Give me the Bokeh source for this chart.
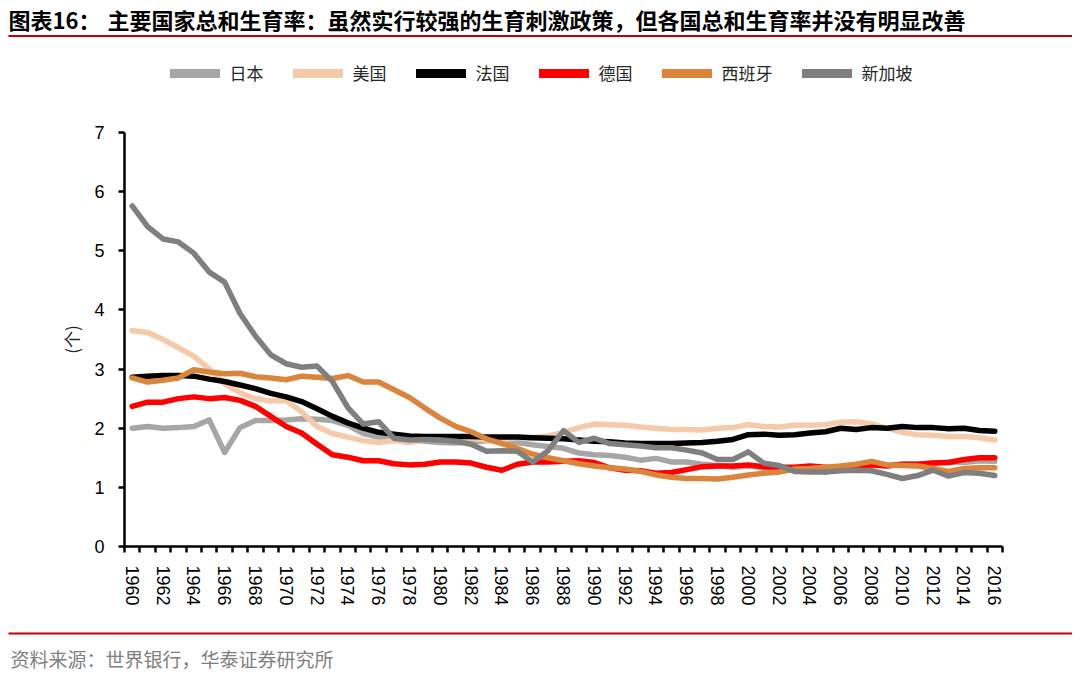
from bokeh.plotting import figure
from bokeh.layouts import column, row
from bokeh.models import Range1d, FixedTicker, Legend, LegendItem
from bokeh.core.properties import value
from bokeh.embed import file_html
from bokeh.resources import INLINE

# ---------------- data ----------------
years = list(range(1960, 2017))
tick_years = years[::2]

series_names = ["日本", "美国", "法国", "德国", "西班牙", "新加坡"]

japan = [2.00, 2.03, 2.00, 2.01, 2.03, 2.14, 1.59, 2.01, 2.13, 2.13,
         2.14, 2.16, 2.15, 2.13, 2.05, 1.91, 1.85, 1.82, 1.80, 1.78,
         1.76, 1.75, 1.77, 1.79, 1.80, 1.76, 1.72, 1.69, 1.66, 1.58,
         1.55, 1.54, 1.51, 1.46, 1.49, 1.43, 1.43, 1.39, 1.37, 1.34,
         1.36, 1.33, 1.32, 1.29, 1.29, 1.26, 1.32, 1.34, 1.37, 1.37,
         1.39, 1.39, 1.41, 1.43, 1.42, 1.45, 1.44]
usa = [3.65, 3.62, 3.50, 3.36, 3.22, 3.00, 2.75, 2.60, 2.50, 2.46,
       2.47, 2.28, 2.03, 1.91, 1.85, 1.79, 1.76, 1.79, 1.76, 1.80,
       1.84, 1.81, 1.83, 1.80, 1.81, 1.84, 1.84, 1.87, 1.93, 2.01,
       2.07, 2.06, 2.05, 2.02, 2.00, 1.98, 1.98, 1.97, 2.00, 2.01,
       2.06, 2.03, 2.02, 2.05, 2.05, 2.06, 2.10, 2.11, 2.07, 2.00,
       1.93, 1.89, 1.88, 1.86, 1.86, 1.84, 1.80]
france = [2.86, 2.88, 2.89, 2.89, 2.88, 2.83, 2.79, 2.73, 2.67, 2.59,
          2.53, 2.45, 2.33, 2.20, 2.09, 2.00, 1.93, 1.90, 1.87, 1.86,
          1.86, 1.86, 1.86, 1.85, 1.85, 1.85, 1.84, 1.83, 1.82, 1.80,
          1.78, 1.77, 1.75, 1.74, 1.74, 1.74, 1.75, 1.76, 1.78, 1.81,
          1.89, 1.90, 1.88, 1.89, 1.92, 1.94, 2.00, 1.98, 2.01, 2.00,
          2.03, 2.01, 2.01, 1.99, 2.00, 1.96, 1.95]
germany = [2.37, 2.44, 2.44, 2.50, 2.53, 2.50, 2.52, 2.47, 2.37, 2.20,
           2.03, 1.92, 1.73, 1.55, 1.51, 1.45, 1.45, 1.40, 1.38, 1.39,
           1.43, 1.43, 1.41, 1.34, 1.29, 1.39, 1.43, 1.43, 1.44, 1.45,
           1.42, 1.33, 1.29, 1.28, 1.24, 1.25, 1.30, 1.35, 1.36, 1.36,
           1.38, 1.35, 1.34, 1.34, 1.36, 1.34, 1.33, 1.37, 1.38, 1.36,
           1.39, 1.39, 1.41, 1.42, 1.47, 1.50, 1.50]
spain = [2.85, 2.78, 2.81, 2.85, 2.99, 2.95, 2.92, 2.93, 2.87, 2.85,
         2.82, 2.88, 2.86, 2.84, 2.89, 2.78, 2.78, 2.65, 2.52, 2.34,
         2.17, 2.03, 1.94, 1.82, 1.74, 1.66, 1.56, 1.50, 1.45, 1.40,
         1.36, 1.33, 1.31, 1.27, 1.21, 1.17, 1.15, 1.15, 1.14, 1.17,
         1.21, 1.24, 1.26, 1.31, 1.32, 1.34, 1.36, 1.39, 1.44, 1.38,
         1.37, 1.36, 1.32, 1.27, 1.32, 1.33, 1.33]
singapore = [5.76, 5.41, 5.20, 5.15, 4.96, 4.64, 4.47, 3.94, 3.56, 3.24,
             3.09, 3.03, 3.05, 2.79, 2.35, 2.07, 2.11, 1.83, 1.80, 1.81,
             1.80, 1.78, 1.73, 1.61, 1.62, 1.61, 1.43, 1.62, 1.96, 1.76,
             1.83, 1.74, 1.72, 1.70, 1.67, 1.67, 1.63, 1.58, 1.47, 1.47,
             1.60, 1.41, 1.37, 1.27, 1.26, 1.26, 1.28, 1.29, 1.28, 1.22,
             1.15, 1.20, 1.29, 1.19, 1.25, 1.24, 1.20]

y_ticks = [0, 1, 2, 3, 4, 5, 6, 7]

title_prefix = "图表16："
title_text = "主要国家总和生育率：虽然实行较强的生育刺激政策，但各国总和生育率并没有明显改善"
source_text = "资料来源：世界银行，华泰证券研究所"
y_label = "(个)"

series = [japan, usa, france, germany, spain, singapore]
colors = ["#A6A6A6", "#F6C9A9", "#000000", "#FF0000", "#DA843C", "#7F7F7F"]

CJK = "Noto Sans CJK SC"
RULE = "#C00000"
W = 1072
NAN = float("nan")


def blank_fig(h):
    """A figure whose frame is the whole canvas; data y runs downwards in pixels."""
    f = figure(width=W, height=h, output_backend="svg", toolbar_location=None,
               x_range=Range1d(0, W), y_range=Range1d(h, 0),
               x_axis_type=None, y_axis_type=None,
               min_border=0, min_border_left=0, min_border_right=0,
               min_border_top=0, min_border_bottom=0)
    f.xgrid.visible = False
    f.ygrid.visible = False
    f.outline_line_color = None
    f.background_fill_color = "white"
    f.border_fill_color = "white"
    return f


# ---------------- header (title, rule, legend) ----------------
TOP_H = 118
top = blank_fig(TOP_H)
top.text(x=[8], y=[18], text=[title_prefix], text_font=value(CJK), text_font_size="22px",
         text_font_style="bold", text_baseline="middle", text_color="black")
top.text(x=[107], y=[18], text=[title_text], text_font=value(CJK), text_font_size="22px",
         text_font_style="bold", text_baseline="middle", text_color="black")
top.segment(x0=[8], y0=[35.5], x1=[1072], y1=[35.5], line_color=RULE, line_width=2)

items = []
for name, c in zip(series_names, colors):
    r = top.line(x=[NAN], y=[NAN], line_color=c, line_width=9, line_cap="round")
    items.append(LegendItem(label=name, renderers=[r]))
legend = Legend(items=items, orientation="horizontal", location=(169.5, TOP_H - 85),
                glyph_width=50, glyph_height=20, label_standoff=10, spacing=29,
                padding=0, margin=0, border_line_color=None, background_fill_alpha=0,
                label_text_font=CJK, label_text_font_size="17px", label_text_color="#262626",
                label_height=20)
top.add_layout(legend)

# ---------------- main chart ----------------
MAIN_TOP = TOP_H
MAIN_H = 620 - MAIN_TOP
p = figure(width=W, height=MAIN_H, output_backend="svg", toolbar_location=None,
           x_range=Range1d(1959.5, 2016.5), y_range=Range1d(0, 7),
           min_border_left=124, min_border_right=W - 1002,
           min_border_top=132 - MAIN_TOP, min_border_bottom=620 - 546)
p.xgrid.visible = False
p.ygrid.visible = False
p.outline_line_color = None
p.background_fill_color = "white"
p.border_fill_color = "white"

xa = p.xaxis[0]
xa.ticker = FixedTicker(ticks=tick_years, minor_ticks=[y - 0.5 for y in years] + [years[-1] + 0.5])
xa.major_tick_out = 0
xa.major_tick_in = 0
xa.minor_tick_out = 6
xa.minor_tick_in = 0
xa.minor_tick_line_width = 2.5
xa.minor_tick_line_color = "black"
xa.axis_line_width = 2.5
xa.axis_line_color = "black"
xa.major_label_orientation = "vertical"
xa.major_label_text_font = "Liberation Sans"
xa.major_label_text_font_size = "18px"
xa.major_label_text_color = "black"
xa.major_label_standoff = 13

ya = p.yaxis[0]
ya.ticker = FixedTicker(ticks=y_ticks)
ya.major_tick_out = 6
ya.major_tick_in = 0
ya.minor_tick_out = 0
ya.minor_tick_in = 0
ya.major_tick_line_width = 2.5
ya.axis_line_width = 2.5
ya.axis_line_color = "black"
ya.major_label_text_font = "Liberation Sans"
ya.major_label_text_font_size = "18px"
ya.major_label_text_color = "black"
ya.major_label_standoff = 14
ya.axis_label = y_label
ya.axis_label_text_font = CJK
ya.axis_label_text_font_style = "normal"
ya.axis_label_text_font_size = "17px"
ya.axis_label_text_color = "#262626"
ya.axis_label_standoff = 7

for vals, c in zip(series, colors):
    p.line(years, vals, line_color=c, line_width=5.5, line_join="round", line_cap="round")

# ---------------- footer (rule, source) ----------------
BOT_TOP = 620
BOT_H = 672 - BOT_TOP
bot = blank_fig(BOT_H)
bot.segment(x0=[8], y0=[633 - BOT_TOP], x1=[1072], y1=[633 - BOT_TOP], line_color=RULE, line_width=2)
bot.text(x=[10], y=[658 - BOT_TOP], text=[source_text], text_font=value(CJK), text_font_size="19px",
         text_baseline="middle", text_color="#808080")

layout = column(row(top), row(p), row(bot), spacing=0)
open("out.html", "w").write(file_html(layout, INLINE))
